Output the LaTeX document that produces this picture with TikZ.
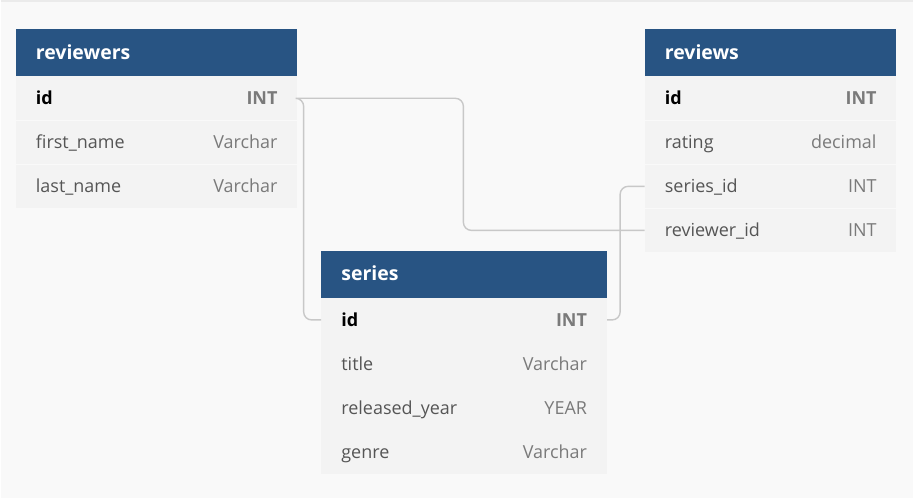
\documentclass[tikz,border=0pt]{standalone}
\usepackage{fontspec}
\setmainfont{Open Sans}
\usetikzlibrary{positioning}

\definecolor{headblue}{RGB}{40,84,131}
\definecolor{rowgray}{RGB}{243,243,243}
\definecolor{bggray}{RGB}{249,249,249}
\definecolor{linkgray}{RGB}{200,200,200}
\definecolor{namegray}{RGB}{85,85,85}
\definecolor{typegray}{RGB}{122,122,122}

\newcommand{\keycol}[2]{\textbf{#1}\hfill\textcolor{typegray}{\textbf{#2}}}
\newcommand{\plaincol}[2]{\textcolor{namegray}{#1}\hfill\textcolor{typegray}{#2}}

\begin{document}
\begin{tikzpicture}[x=1pt,y=-1pt,
                head/.style = {fill=headblue, text=white, font=\bfseries\fontsize{19.5}{21}\selectfont,
                               minimum height=47pt, inner xsep=20pt, inner ysep=0pt,
                               text height=14pt, text depth=1pt, align=left, anchor=north west},
                row/.style = {fill=rowgray, font=\fontsize{18}{20}\selectfont, minimum height=43.7pt,
                              inner xsep=20pt, inner ysep=0pt, text height=14pt, text depth=1pt, align=left},
                link/.style = {draw=linkgray, line width=1.4pt, rounded corners=8pt}]
                \fill[bggray] (0,0) rectangle (914,499);
                \draw[black!8, line width=1.5pt] (0,1) -- (914,1);
                % reviewers
                \node[head, text width=242pt] (rv) at (15,29) {reviewers};
                \node[row, text width=242pt] (rv-id) [below=0pt of rv] {\keycol{id}{INT}};
                \node[row, text width=242pt] (rv-first) [below=0pt of rv-id] {\plaincol{first\_name}{Varchar}};
                \node[row, text width=242pt] (rv-last) [below=0pt of rv-first] {\plaincol{last\_name}{Varchar}};
                % reviews
                \node[head, text width=212pt] (rw) at (645,29) {reviews};
                \node[row, text width=212pt] (rw-id) [below=0pt of rw] {\keycol{id}{INT}};
                \node[row, text width=212pt] (rw-rating) [below=0pt of rw-id] {\plaincol{rating}{decimal}};
                \node[row, text width=212pt] (rw-series) [below=0pt of rw-rating] {\plaincol{series\_id}{INT}};
                \node[row, text width=212pt] (rw-reviewer) [below=0pt of rw-series] {\plaincol{reviewer\_id}{INT}};
                % series
                \node[head, text width=246pt] (sr) at (321,251) {series};
                \node[row, text width=246pt] (sr-id) [below=0pt of sr] {\keycol{id}{INT}};
                \node[row, text width=246pt] (sr-title) [below=0pt of sr-id] {\plaincol{title}{Varchar}};
                \node[row, text width=246pt] (sr-year) [below=0pt of sr-title] {\plaincol{released\_year}{YEAR}};
                \node[row, text width=246pt] (sr-genre) [below=0pt of sr-year] {\plaincol{genre}{Varchar}};
                % links
                \draw[link] (rv-id.east) -- ++(166,0) |- (rw-reviewer.west);
                \draw[link] (rv-id.east) -- ++(6,0) |- (sr-id.west);
                \draw[link] (sr-id.east) -- ++(13,0) |- (rw-series.west);
\end{tikzpicture}
\end{document}
